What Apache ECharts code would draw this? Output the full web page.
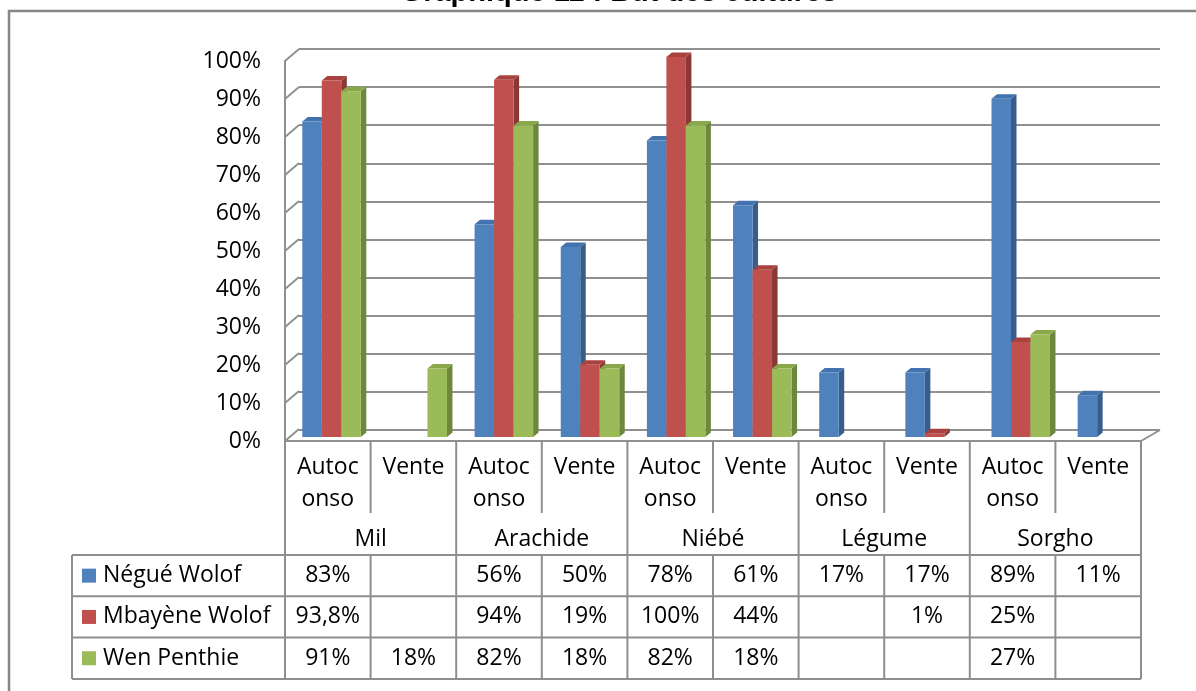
<!DOCTYPE html>
<html>
<head>
<meta charset="utf-8">
<script src="https://cdn.jsdelivr.net/npm/echarts@6/dist/echarts.min.js"></script>
<style>
    html, body { margin: 0; padding: 0; background: #fff; }
    #chart { width: 1196px; height: 691px; }
</style>
</head>
<body>
<div id="chart"></div>
<script>
// Data
const chartTitle = 'Graphique 11 : But des cultures'
const cultures = ['Mil', 'Arachide', 'Niébé', 'Légume', 'Sorgho']
const buts = ['Autoconso', 'Vente', 'Autoconso', 'Vente', 'Autoconso', 'Vente', 'Autoconso', 'Vente', 'Autoconso', 'Vente']
const yTicks = [0, 10, 20, 30, 40, 50, 60, 70, 80, 90, 100]
const seriesNames = ['Négué Wolof', 'Mbayène Wolof', 'Wen Penthie']
const negueWolof = [83, null, 56, 50, 78, 61, 17, 17, 89, 11]
const mbayeneWolof = [93.8, null, 94, 19, 100, 44, null, 1, 25, null]
const wenPenthie = [91, 18, 82, 18, 82, 18, null, null, 27, null]
const seriesValues = [negueWolof, mbayeneWolof, wenPenthie]

// Style
const font = 'Open Sans'
const gridColor = '#909090'
const tableColor = '#8e8e8e'
const barColors = [
    { front: '#4F81BD', side: '#385D8A', top: '#4373AE' },
    { front: '#C0504D', side: '#8A3836', top: '#A9423F' },
    { front: '#9BBB59', side: '#6E873E', top: '#88A84A' },
]

// layout (front plane of the 3D box)
const frontLeft = 285,
    frontWidth = 856,
    frontTop = 61,
    frontHeight = 380,
    colW = frontWidth / buts.length

const fmt = (v) => (v == null ? '' : String(v).replace('.', ',') + '%')

// 3D bar
const makeBar = (s) => (params, api) => {
    const i = api.value(0)
    const v = api.value(1)
    const base = api.coord([i, 0])
    const top = api.coord([i, v])
    const k = api.size([1, 0])[0] / 85.6
    const w = 19.5 * k
    const x = base[0] + (-25.5 + 0.55 * i) * k + s * w
    const yb = base[1] - 4
    const yt = top[1] - 4
    const dx = 5.5,
        dy = -4.5
    const c = barColors[s]
    return {
        type: 'group',
        children: [
            {
                type: 'polygon',
                shape: { points: [[x + w, yb], [x + w + dx, yb + dy], [x + w + dx, yt + dy], [x + w, yt]] },
                style: { fill: c.side },
            },
            {
                type: 'polygon',
                shape: { points: [[x, yt], [x + dx, yt + dy], [x + w + dx, yt + dy], [x + w, yt]] },
                style: { fill: c.top },
            },
            { type: 'rect', shape: { x: x, y: yt, width: w, height: yb - yt }, style: { fill: c.front } },
        ],
    }
}

// left wall + floor diagonals
const renderWall = (params, api) => {
    const v = api.value(1)
    const y = api.coord([0, v])[1]
    const cs = params.coordSys
    const st = { stroke: gridColor, lineWidth: 2 }
    const lines = [{ type: 'line', shape: { x1: cs.x, y1: y, x2: cs.x + 14, y2: y - 12 }, style: st }]
    if (v === 0) {
        lines.push({
            type: 'line',
            shape: { x1: cs.x + cs.width, y1: y, x2: cs.x + cs.width + 19, y2: y - 11 },
            style: st,
        })
    }
    return { type: 'group', children: lines }
}

// data table under the chart
const buildTable = () => {
    const els = []
    const keyLeft = 72,
        yHead = 441,
        ySub = 513,
        yRows = 555,
        rowH = 41.3,
        yEnd = yRows + rowH * seriesNames.length
    const line = (x1, y1, x2, y2) =>
        els.push({ type: 'line', shape: { x1, y1, x2, y2 }, style: { stroke: tableColor, lineWidth: 2 } })
    const text = (t, x, y, align) =>
        els.push({
            type: 'text',
            x: x,
            y: y,
            style: {
                text: t,
                font: `23px "${font}"`,
                fill: '#000',
                align: align || 'center',
                verticalAlign: 'middle',
                lineHeight: 32,
            },
        })

    for (let r = 0; r <= seriesNames.length; r++) line(keyLeft, yRows + r * rowH, frontLeft + frontWidth, yRows + r * rowH)
    line(keyLeft, yRows, keyLeft, yEnd)
    for (let c = 0; c <= buts.length; c++) {
        const x = frontLeft + c * colW
        if (c % 2 === 0) line(x, yHead, x, yEnd)
        else {
            line(x, yHead, x, ySub)
            line(x, yRows, x, yEnd)
        }
    }
    buts.forEach((b, i) => {
        const cx = frontLeft + (i + 0.5) * colW
        if (b === 'Autoconso') {
            text('Autoc', cx, 467)
            text('onso', cx, 499)
        } else text(b, cx, 467)
    })
    cultures.forEach((c, i) => text(c, frontLeft + (2 * i + 1) * colW, 539))
    seriesNames.forEach((name, s) => {
        const cy = yRows + (s + 0.5) * rowH
        els.push({
            type: 'rect',
            shape: { x: 82, y: cy - 7, width: 14, height: 14 },
            style: { fill: barColors[s].front },
        })
        text(name, 103, cy, 'left')
        seriesValues[s].forEach((v, i) => text(fmt(v), frontLeft + (i + 0.5) * colW, cy))
    })
    return els
}

const myChart = echarts.init(document.getElementById('chart'))
const option = {
    animation: false,
    backgroundColor: '#fff',
    grid: [
        // back wall
        { left: frontLeft + 14, top: frontTop - 12, width: frontWidth + 5, height: frontHeight + 1 },
        // front plane
        { left: frontLeft, top: frontTop, width: frontWidth, height: frontHeight },
    ],
    xAxis: [
        { type: 'category', gridIndex: 0, data: buts, show: false },
        {
            type: 'category',
            gridIndex: 1,
            data: buts,
            axisLine: { show: true, lineStyle: { color: gridColor, width: 2 } },
            axisTick: { show: false },
            axisLabel: { show: false },
        },
    ],
    yAxis: [
        {
            type: 'value',
            gridIndex: 0,
            min: 0,
            max: 100,
            interval: 10,
            axisLine: { show: false },
            axisTick: { show: false },
            axisLabel: { show: false },
            splitLine: { show: true, lineStyle: { color: gridColor, width: 2 } },
        },
        {
            type: 'value',
            gridIndex: 1,
            min: 0,
            max: 100,
            interval: 10,
            axisLine: { show: true, lineStyle: { color: gridColor, width: 2 } },
            axisTick: { show: false },
            splitLine: { show: false },
            axisLabel: {
                formatter: (v) => v + '%',
                color: '#000',
                fontSize: 23,
                fontFamily: font,
                margin: 24,
            },
        },
    ],
    series: [
        {
            type: 'custom',
            xAxisIndex: 1,
            yAxisIndex: 1,
            renderItem: renderWall,
            data: yTicks.map((t) => [0, t]),
            silent: true,
        },
        ...seriesValues.map((vals, s) => ({
            type: 'custom',
            name: seriesNames[s],
            xAxisIndex: 1,
            yAxisIndex: 1,
            renderItem: makeBar(s),
            data: vals.map((v, i) => [i, v]).filter((d) => d[1] != null),
        })),
    ],
    graphic: [
        {
            type: 'rect',
            shape: { x: 9, y: 11, width: 1400, height: 900 },
            style: { fill: 'none', stroke: '#868686', lineWidth: 2.5 },
            silent: true,
        },
        {
            type: 'text',
            x: 619,
            y: 7.5,
            style: {
                text: chartTitle,
                font: 'bold 29px "Liberation Sans"',
                fill: '#000',
                align: 'center',
                verticalAlign: 'bottom',
            },
        },
        ...buildTable(),
    ],
}
myChart.setOption(option)
</script>
</body>
</html>
